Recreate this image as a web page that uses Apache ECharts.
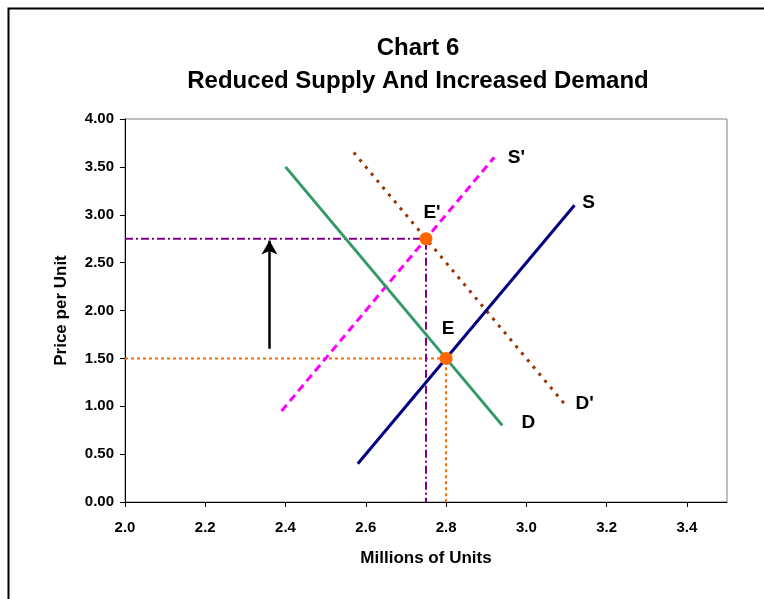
<!DOCTYPE html>
<html><head><meta charset="utf-8">
<script src="https://cdn.jsdelivr.net/npm/echarts@6/dist/echarts.min.js"></script>
<style>html,body{margin:0;padding:0;background:#fff}#c{width:764px;height:599px}</style>
</head><body><div id="c"></div>
<script>
var xTicks = [2.0, 2.2, 2.4, 2.6, 2.8, 3.0, 3.2, 3.4];
var yTicks = [0, 0.5, 1, 1.5, 2, 2.5, 3, 3.5, 4];
var supplyS = [[2.58, 0.40], [3.12, 3.10]];
var demandD = [[2.40, 3.50], [2.94, 0.80]];
var supplyS2 = [[2.39, 0.95], [2.92, 3.60]];
var demandD2 = [[2.57, 3.65], [3.10, 1.00]];
var eqE = [2.80, 1.50];
var eqE2 = [2.75, 2.75];
var guideE = [[2.0, 1.5], [2.8, 1.5], [2.8, 0]];
var guideE2 = [[2.0, 2.75], [2.75, 2.75], [2.75, 0]];
var arrowPts = [[2.36, 1.60], [2.36, 2.73]];
var labels = [
  {name: "S'", value: [2.975, 3.59]},
  {name: "S", value: [3.155, 3.12]},
  {name: "E'", value: [2.765, 3.02]},
  {name: "E", value: [2.805, 1.81]},
  {name: "D", value: [3.005, 0.83]},
  {name: "D'", value: [3.145, 1.03]}
];

var chart = echarts.init(document.getElementById('c'), null, {renderer: 'canvas'});
var font = 'Liberation Sans, Arial, sans-serif';
chart.setOption({
  animation: false,
  backgroundColor: '#fff',
  title: {
    text: 'Chart 6\nReduced Supply And Increased Demand',
    left: 413, top: 27, textAlign: 'center',
    textStyle: {fontFamily: font, fontWeight: 'bold', fontSize: 24, lineHeight: 33, color: '#000'}
  },
  graphic: [
    {type: 'rect', shape: {x: 8.5, y: 8.5, width: 800, height: 700}, style: {fill: 'none', stroke: '#000', lineWidth: 2}, z: 0}
  ],
  grid: {left: 125, top: 119, right: 37, bottom: 97, show: true, borderColor: '#808080', borderWidth: 1},
  xAxis: {
    type: 'value', min: 2.0, max: 3.5, interval: 0.2,
    name: 'Millions of Units', nameLocation: 'middle', nameGap: 48,
    nameTextStyle: {fontFamily: font, fontWeight: 'bold', fontSize: 17, color: '#000'},
    axisLine: {show: true, onZero: false, lineStyle: {color: '#000', width: 1}},
    axisTick: {show: true, length: 5, lineStyle: {color: '#000'}},
    splitLine: {show: false},
    axisLabel: {fontFamily: font, fontWeight: 'bold', fontSize: 15, color: '#000', margin: 18, showMaxLabel: false,
      formatter: function (v) { return xTicks.some(function(t){return Math.abs(t-v)<1e-6;}) ? v.toFixed(1) : ''; }}
  },
  yAxis: {
    type: 'value', min: 0, max: 4, interval: 0.5,
    name: 'Price per Unit', nameLocation: 'middle', nameGap: 55,
    nameTextStyle: {fontFamily: font, fontWeight: 'bold', fontSize: 17, color: '#000'},
    axisLine: {show: true, lineStyle: {color: '#000', width: 1}},
    axisTick: {show: true, length: 5, lineStyle: {color: '#000'}},
    splitLine: {show: false},
    axisLabel: {fontFamily: font, fontWeight: 'bold', fontSize: 15, color: '#000', margin: 11,
      formatter: function (v) { return yTicks.indexOf(v) >= 0 ? v.toFixed(2) : ''; }}
  },
  series: [
    {type: 'line', data: guideE, symbol: 'none', lineStyle: {color: '#FF6600', width: 2, type: [3, 3]}, z: 2},
    {type: 'line', data: guideE2, symbol: 'none', lineStyle: {color: '#800080', width: 2, type: [8, 3, 2, 3]}, z: 2},
    {type: 'line', data: supplyS2, symbol: 'none', lineStyle: {color: '#FF00FF', width: 3, type: [8, 5]}, z: 3},
    {type: 'line', data: demandD2, symbol: 'none', lineStyle: {color: '#993300', width: 3, type: [3, 6]}, z: 3},
    {type: 'line', data: demandD, symbol: 'none', lineStyle: {color: '#339966', width: 3}, z: 4},
    {type: 'line', data: supplyS, symbol: 'none', lineStyle: {color: '#000080', width: 3}, z: 4},
    {type: 'scatter', data: [eqE, eqE2], symbol: 'circle', symbolSize: 13, itemStyle: {color: '#FF6600', opacity: 1}, z: 6},
    {type: 'line', data: [], symbol: 'none',
      markLine: {silent: true, symbol: ['none', 'arrow'], symbolSize: [12, 14], label: {show: false},
        lineStyle: {color: '#000', width: 2.5, type: 'solid'},
        data: [[{coord: arrowPts[0]}, {coord: arrowPts[1]}]]}, z: 5},
    {type: 'scatter', data: labels, symbolSize: 1, itemStyle: {opacity: 0}, z: 7,
      label: {show: true, formatter: '{b}', position: 'inside', fontFamily: font, fontWeight: 'bold', fontSize: 19, color: '#000', opacity: 1}}
  ]
});
</script></body></html>
